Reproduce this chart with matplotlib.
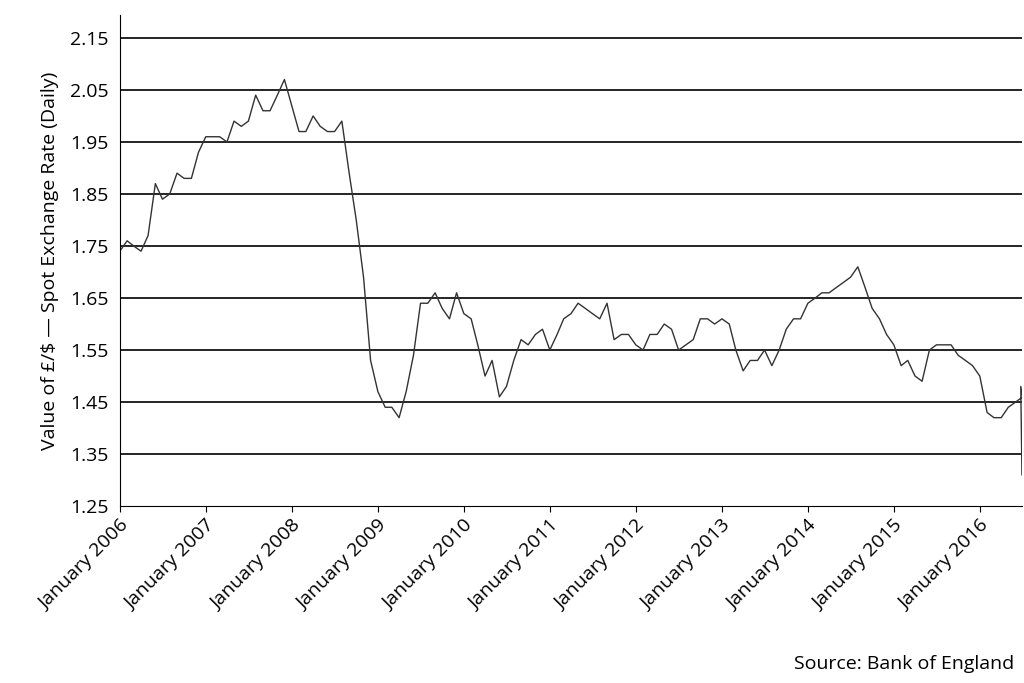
import numpy as np
import pandas as pd
import matplotlib.pyplot as plt
import matplotlib.dates as mdates

plt.rcParams['font.family'] = 'Open Sans'

# Month-end readings of the daily £/$ spot rate
start = '2006-01-01'
rates = [
    1.74, 1.76, 1.75, 1.74, 1.77, 1.87, 1.84, 1.85, 1.89, 1.88, 1.88, 1.93, 1.96,   # 2006
    1.96, 1.96, 1.95, 1.99, 1.98, 1.99, 2.04, 2.01, 2.01, 2.04, 2.07, 2.02,         # 2007
    1.97, 1.97, 2.00, 1.98, 1.97, 1.97, 1.99, 1.89, 1.80, 1.69, 1.53, 1.47,         # 2008
    1.44, 1.44, 1.42, 1.47, 1.54, 1.64, 1.64, 1.66, 1.63, 1.61, 1.66, 1.62,         # 2009
    1.61, 1.56, 1.50, 1.53, 1.46, 1.48, 1.53, 1.57, 1.56, 1.58, 1.59, 1.55,         # 2010
    1.58, 1.61, 1.62, 1.64, 1.63, 1.62, 1.61, 1.64, 1.57, 1.58, 1.58, 1.56,         # 2011
    1.55, 1.58, 1.58, 1.60, 1.59, 1.55, 1.56, 1.57, 1.61, 1.61, 1.60, 1.61,         # 2012
    1.60, 1.55, 1.51, 1.53, 1.53, 1.55, 1.52, 1.55, 1.59, 1.61, 1.61, 1.64,         # 2013
    1.65, 1.66, 1.66, 1.67, 1.68, 1.69, 1.71, 1.67, 1.63, 1.61, 1.58, 1.56,         # 2014
    1.52, 1.53, 1.50, 1.49, 1.55, 1.56, 1.56, 1.56, 1.54, 1.53, 1.52, 1.50,         # 2015
    1.43, 1.42, 1.42, 1.44, 1.45, 1.46,                                             # 2016
]
dates = list(pd.date_range(start, periods=len(rates), freq='MS'))
dates.append(pd.Timestamp('2016-06-23'))
rates.append(1.48)
dates.append(pd.Timestamp('2016-06-28'))
rates.append(1.31)

yticks = [1.25, 1.35, 1.45, 1.55, 1.65, 1.75, 1.85, 1.95, 2.05, 2.15]
years = list(range(2006, 2017))

fig = plt.figure(figsize=(10.24, 6.83), dpi=100)
ax = fig.add_axes([0.117, 0.259, 0.881, 0.719])
for y in yticks[1:]:
    ax.axhline(y, color='black', lw=1.2, zorder=1)
ax.plot(dates, rates, color='#333333', lw=1.0, zorder=2)

ax.set_ylim(1.25, 2.194)
ax.set_xlim(pd.Timestamp('2006-01-01'), pd.Timestamp('2016-06-28'))
ax.set_yticks(yticks)
ax.set_yticklabels([f'{v:.2f}' for v in yticks], fontsize=14)
ax.set_xticks([pd.Timestamp(f'{y}-01-01') for y in years])
ax.set_xticklabels([f'January {y}' for y in years], rotation=45, ha='right',
                   rotation_mode='anchor', fontsize=14)
ax.tick_params(axis='y', length=0, pad=8)
ax.tick_params(axis='x', length=4)
for s in ['top', 'right']:
    ax.spines[s].set_visible(False)
ax.set_ylabel('Value of £/$ — Spot Exchange Rate (Daily)', fontsize=14, labelpad=8)
fig.text(0.99, 0.02, 'Source: Bank of England', ha='right', fontsize=14)

fig.savefig('out.png', dpi=100)
